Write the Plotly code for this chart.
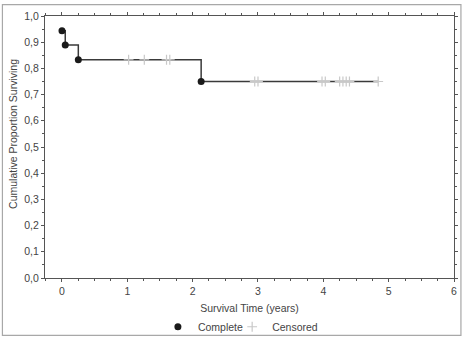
import plotly.graph_objects as go

# Data
event_times = [0.0, 0.05, 0.25, 2.13]
event_surv = [0.944, 0.889, 0.833, 0.75]
cens_times = [1.02, 1.26, 1.60, 1.65, 2.95, 3.00, 3.98, 4.03, 4.25, 4.30, 4.35, 4.40, 4.84]
cens_surv = [0.833, 0.833, 0.833, 0.833, 0.75, 0.75, 0.75, 0.75, 0.75, 0.75, 0.75, 0.75, 0.75]
end_time = 4.84
end_surv = 0.75

x_title = "Survival Time (years)"
y_title = "Cumulative Proportion Surviving"

FONT = "Liberation Sans, Arial, sans-serif"
FS = 10.5
TXT = "#444444"

fig = go.Figure()

# step line
fig.add_trace(go.Scatter(
    x=event_times + [end_time], y=event_surv + [end_surv],
    mode="lines", line=dict(shape="hv", color="#3a3a3a", width=1.5),
    showlegend=False, hoverinfo="skip"))

# censored marks
fig.add_trace(go.Scatter(
    x=cens_times, y=cens_surv, mode="markers", name="Censored", legend="legend2",
    marker=dict(symbol="cross-thin", size=7, color="#c8c8c8",
                line=dict(color="#c8c8c8", width=1.2))))

# complete (events)
fig.add_trace(go.Scatter(
    x=event_times, y=event_surv, mode="markers", name="Complete", legend="legend",
    marker=dict(symbol="circle", size=7, color="#1a1a1a")))

axis_common = dict(
    showgrid=False, zeroline=False, showline=True, linecolor="#555555", linewidth=1,
    mirror="allticks", ticks="outside", ticklen=3, tickcolor="#555555",
    tickfont=dict(family=FONT, size=FS, color=TXT),
)

fig.update_xaxes(
    range=[-0.26, 6.0], tickvals=[0, 1, 2, 3, 4, 5, 6],
    minor=dict(dtick=0.25, tick0=0, ticks="outside", ticklen=2, tickcolor="#555555"),
    title=dict(text=x_title, font=dict(family=FONT, size=FS, color=TXT), standoff=9),
    **axis_common)
fig.update_yaxes(
    range=[0, 1.0], dtick=0.1, tickformat=".1f",
    minor=dict(dtick=0.05, tick0=0, ticks="outside", ticklen=2, tickcolor="#555555"),
    **axis_common)

# y-axis title (placed as in the reference, slightly above plot centre)
fig.add_annotation(text=y_title, textangle=-90, showarrow=False,
                   xref="paper", yref="paper",
                   x=(12 - 45) / 413, y=(288 - 137) / 274,
                   xanchor="center", yanchor="middle",
                   font=dict(family=FONT, size=FS, color=TXT))

# outer frame
fig.add_shape(type="rect", xref="paper", yref="paper",
              x0=(2 - 45) / 413, x1=(465 - 45) / 413,
              y0=(288 - 348) / 274, y1=(288 - 2) / 274,
              line=dict(color="#a8a8a8", width=1.2), layer="below")

leg_common = dict(orientation="h", xanchor="left",
                  y=(288 - 339) / 274, yanchor="middle",
                  font=dict(family=FONT, size=FS, color=TXT),
                  itemwidth=30, bgcolor="rgba(0,0,0,0)")

fig.update_layout(
    width=468, height=351,
    margin=dict(l=45, r=10, t=14, b=63),
    paper_bgcolor="white", plot_bgcolor="white",
    separators=", ",
    font=dict(family=FONT, size=FS, color=TXT),
    legend=dict(x=(159 - 45) / 413, **leg_common),
    legend2=dict(x=(234 - 45) / 413, **leg_common),
)

fig.write_html("out.html")
